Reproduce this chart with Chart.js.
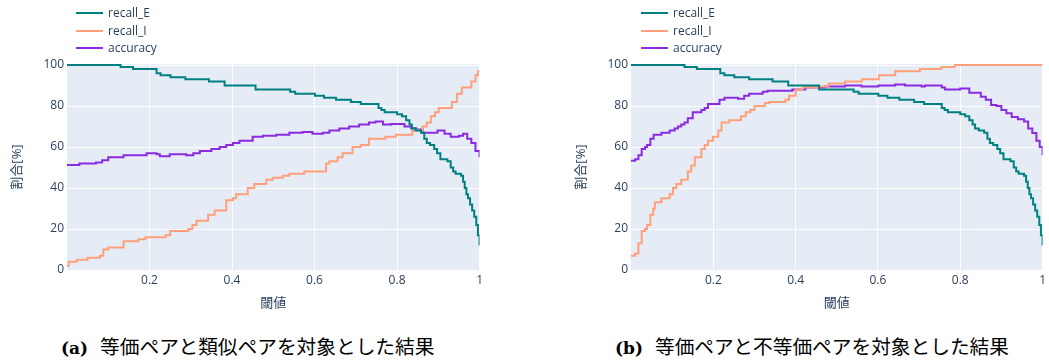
<!DOCTYPE html>
<html>
<head>
<meta charset="utf-8">
<script src="https://cdn.jsdelivr.net/npm/chart.js@4/dist/chart.umd.min.js"></script>
<style>
  html, body { margin: 0; padding: 0; background: #fff; }
  #page { position: relative; width: 1049px; height: 362px; overflow: hidden; }
  canvas { position: absolute; top: 0; }
  .legend { position: absolute; top: 4px; font: 12px "Open Sans", "Noto Sans CJK JP", sans-serif; color: #2a3f5f; }
  .legend .item { position: relative; height: 17.5px; line-height: 17.5px; white-space: nowrap; }
  .legend .swatch { position: absolute; left: 0; top: 8px; width: 27px; height: 2px; }
  .legend .text { position: absolute; left: 32px; top: 0; }
  .caption { position: absolute; top: 331px; height: 24px; line-height: 24px; white-space: nowrap; color: #000; }
  .caption .tag { font: bold 17px "DejaVu Serif", serif; margin-right: 12px; }
  .caption .jp { font: 19.7px "Noto Sans CJK JP", sans-serif; }
</style>
</head>
<body>
<div id="page">
  <canvas id="chartA" width="486" height="320" style="left:0px"></canvas>
  <canvas id="chartB" width="485" height="320" style="left:564px"></canvas>
  <div class="legend" id="legendA" style="left:76px"></div>
  <div class="legend" id="legendB" style="left:641px"></div>
  <div class="caption" style="left:61px"><span class="tag">(a)</span><span class="jp">等価ペアと類似ペアを対象とした結果</span></div>
  <div class="caption" style="left:615px"><span class="tag">(b)</span><span class="jp">等価ペアと不等価ペアを対象とした結果</span></div>
</div>
<script>
// Series names and colours
const seriesNames = ['recall_E', 'recall_I', 'accuracy'];
const seriesColors = ['rgb(0,128,128)', 'rgb(255,160,122)', 'rgb(138,43,226)'];

// Axis labels
const xTitle = '閾値';
const yTitle = '割合[%]';
const yTicks = [0, 20, 40, 60, 80, 100];
const xTicks = [0, 0.2, 0.4, 0.6, 0.8, 1];

// recall_E (same in both panels): threshold -> percent
const recallE_t = [0, 0.13, 0.16, 0.217, 0.227, 0.251, 0.287, 0.344, 0.382, 0.457,
  0.541, 0.553, 0.601, 0.623, 0.652, 0.688, 0.712, 0.755, 0.762, 0.77,
  0.80, 0.812, 0.822, 0.83, 0.836, 0.845, 0.858, 0.866, 0.872, 0.88,
  0.89, 0.897, 0.905, 0.922, 0.93, 0.936, 0.942, 0.955, 0.96, 0.964,
  0.968, 0.972, 0.977, 0.982, 0.987, 0.992, 0.996, 1];
const recallE_v = [100, 99, 98, 96, 95, 94, 93, 92, 90, 88,
  87, 86, 85, 84, 83, 82, 81, 79, 78, 77,
  76, 75, 73, 71, 69, 68, 67, 64, 62, 61,
  59, 57, 54, 53, 50, 48, 47, 46, 43, 40,
  37, 35, 32, 29, 26, 22, 17, 12];

// (a) equivalent vs. similar pairs
const recallI_a_t = [0, 0.004, 0.024, 0.05, 0.08, 0.088, 0.1, 0.137, 0.173, 0.19,
  0.239, 0.25, 0.294, 0.304, 0.314, 0.342, 0.358, 0.386, 0.402, 0.41,
  0.438, 0.454, 0.483, 0.499, 0.523, 0.539, 0.575, 0.628, 0.636, 0.656,
  0.668, 0.692, 0.712, 0.732, 0.772, 0.797, 0.837, 0.862, 0.872, 0.882,
  0.892, 0.901, 0.933, 0.945, 0.957, 0.98, 0.99, 0.996, 1];
const recallI_a_v = [2, 4, 5, 6, 7, 10, 11, 14, 15, 16,
  17, 19, 20, 22, 24, 27, 29, 34, 35, 37,
  40, 42, 44, 45, 46, 47, 48, 52, 53, 55,
  57, 60, 61, 64, 65, 66, 68, 70, 72, 75,
  77, 79, 82, 86, 89, 92, 95, 97, 97];
const accuracy_a_t = [0, 0.03, 0.07, 0.085, 0.1, 0.137, 0.193, 0.217, 0.225, 0.249,
  0.289, 0.306, 0.322, 0.35, 0.37, 0.386, 0.402, 0.418, 0.45, 0.475,
  0.507, 0.539, 0.571, 0.595, 0.62, 0.636, 0.66, 0.684, 0.708, 0.732,
  0.748, 0.766, 0.786, 0.818, 0.834, 0.846, 0.862, 0.898, 0.915, 0.93,
  0.95, 0.96, 0.97, 0.98, 0.99, 1];
const accuracy_a_v = [51.2, 52, 52.5, 53.5, 55, 56, 57, 56.5, 55.5, 56.5,
  56, 57, 58, 59, 60, 61, 62, 63, 65, 65.5,
  66, 67, 67.3, 66.5, 67, 68, 69, 70, 71, 72,
  72.5, 71, 71.2, 70, 69.2, 68.5, 67, 68, 66.5, 65,
  65.5, 66.5, 64, 62, 58, 55];

// (b) equivalent vs. non-equivalent pairs
const recallI_b_t = [0, 0.01, 0.018, 0.026, 0.034, 0.039, 0.047, 0.054, 0.058, 0.074,
  0.094, 0.102, 0.11, 0.122, 0.138, 0.146, 0.155, 0.171, 0.179, 0.187,
  0.199, 0.212, 0.22, 0.239, 0.267, 0.279, 0.29, 0.3, 0.325, 0.336,
  0.375, 0.384, 0.4, 0.417, 0.456, 0.48, 0.52, 0.561, 0.602, 0.642,
  0.702, 0.754, 0.787, 1];
const recallI_b_v = [7, 8, 13, 19, 20, 22, 27, 30, 33, 35,
  37, 40, 42, 44, 48, 51, 55, 59, 61, 63,
  65, 68, 72, 73, 75, 77, 78, 80, 81.5, 82,
  83, 85, 88, 89, 89.5, 91, 92, 93, 95, 97,
  98, 99, 100, 100];
const accuracy_b_t = [0, 0.01, 0.018, 0.026, 0.034, 0.039, 0.047, 0.055, 0.074, 0.094,
  0.106, 0.114, 0.122, 0.13, 0.138, 0.15, 0.171, 0.179, 0.187, 0.215,
  0.227, 0.26, 0.275, 0.287, 0.32, 0.332, 0.392, 0.424, 0.472, 0.52,
  0.56, 0.601, 0.642, 0.666, 0.706, 0.714, 0.755, 0.763, 0.8, 0.822,
  0.85, 0.862, 0.875, 0.888, 0.9, 0.912, 0.925, 0.94, 0.955, 0.965,
  0.975, 0.985, 0.993, 1];
const accuracy_b_v = [53.3, 54, 56, 59, 60, 61, 64, 66, 67, 68,
  69, 70, 71, 72, 74, 77, 78, 79, 81, 83,
  84, 83.5, 85, 86, 87, 87.5, 88, 89, 89.5, 90,
  89.5, 90, 90.5, 90, 89.5, 90, 89, 88, 88.5, 86.5,
  84.5, 83, 80.5, 80, 78, 76.5, 74.6, 73.5, 72.5, 69,
  66.8, 63, 60, 56];

const FONT = '"Open Sans", "Noto Sans CJK JP", sans-serif';
const TEXT_COLOR = '#2a3f5f';

function toPoints(t, v) { return t.map((x, i) => ({ x: x, y: v[i] })); }

// paints the plot-area background
const plotBackground = {
  id: 'plotBackground',
  beforeDraw(chart) {
    const { ctx, chartArea: a } = chart;
    ctx.save();
    ctx.fillStyle = '#E5ECF6';
    ctx.fillRect(a.left, a.top, a.right - a.left, a.bottom - a.top);
    ctx.restore();
  }
};

function makeChart(id, seriesData, padRight) {
  const datasets = seriesData.map((pts, i) => ({
    label: seriesNames[i],
    data: pts,
    borderColor: seriesColors[i],
    backgroundColor: seriesColors[i],
    borderWidth: 2,
    pointRadius: 0,
    stepped: 'before',
    fill: false
  }));
  return new Chart(document.getElementById(id), {
    type: 'line',
    data: { datasets },
    plugins: [plotBackground],
    options: {
      responsive: false,
      animation: false,
      devicePixelRatio: 1,
      layout: { padding: { top: 64, right: padRight, left: 0, bottom: 0 } },
      plugins: { legend: { display: false }, tooltip: { enabled: false } },
      scales: {
        x: {
          type: 'linear',
          min: 0, max: 1,
          afterBuildTicks(scale) { scale.ticks = xTicks.map(v => ({ value: v })); },
          afterFit(scale) { scale.height = 50; },
          border: { display: false },
          grid: {
            color: ctx => (ctx.tick && ctx.tick.value === 0) ? 'rgba(0,0,0,0)' : '#ffffff',
            lineWidth: 1,
            drawTicks: false
          },
          ticks: {
            padding: 3,
            maxRotation: 0,
            autoSkip: false,
            color: TEXT_COLOR,
            font: { family: FONT, size: 12 },
            callback: v => v === 0 ? '' : String(+v.toFixed(1))
          },
          title: {
            display: true, text: xTitle, color: TEXT_COLOR,
            font: { family: FONT, size: 13 },
            padding: { top: 0, bottom: 9 }
          }
        },
        y: {
          type: 'linear',
          min: 0, max: 100.5,
          afterBuildTicks(scale) { scale.ticks = yTicks.map(v => ({ value: v })); },
          afterFit(scale) { scale.width = 67; },
          border: { display: false },
          grid: { color: '#ffffff', lineWidth: 1, drawTicks: false },
          ticks: {
            padding: 3,
            color: TEXT_COLOR,
            font: { family: FONT, size: 12 }
          },
          title: {
            display: true, text: yTitle, color: TEXT_COLOR,
            font: { family: FONT, size: 13 },
            padding: { top: 9, bottom: 0 }
          }
        }
      }
    }
  });
}

function buildLegend(id) {
  const box = document.getElementById(id);
  seriesNames.forEach((name, i) => {
    const item = document.createElement('div');
    item.className = 'item';
    const sw = document.createElement('div');
    sw.className = 'swatch';
    sw.style.background = seriesColors[i];
    const tx = document.createElement('div');
    tx.className = 'text';
    tx.textContent = name;
    item.appendChild(sw);
    item.appendChild(tx);
    box.appendChild(item);
  });
}

makeChart('chartA', [
  toPoints(recallE_t, recallE_v),
  toPoints(recallI_a_t, recallI_a_v),
  toPoints(accuracy_a_t, accuracy_a_v)
], 4);
makeChart('chartB', [
  toPoints(recallE_t, recallE_v),
  toPoints(recallI_b_t, recallI_b_v),
  toPoints(accuracy_b_t, accuracy_b_v)
], 3.5);
buildLegend('legendA');
buildLegend('legendB');
</script>
</body>
</html>
